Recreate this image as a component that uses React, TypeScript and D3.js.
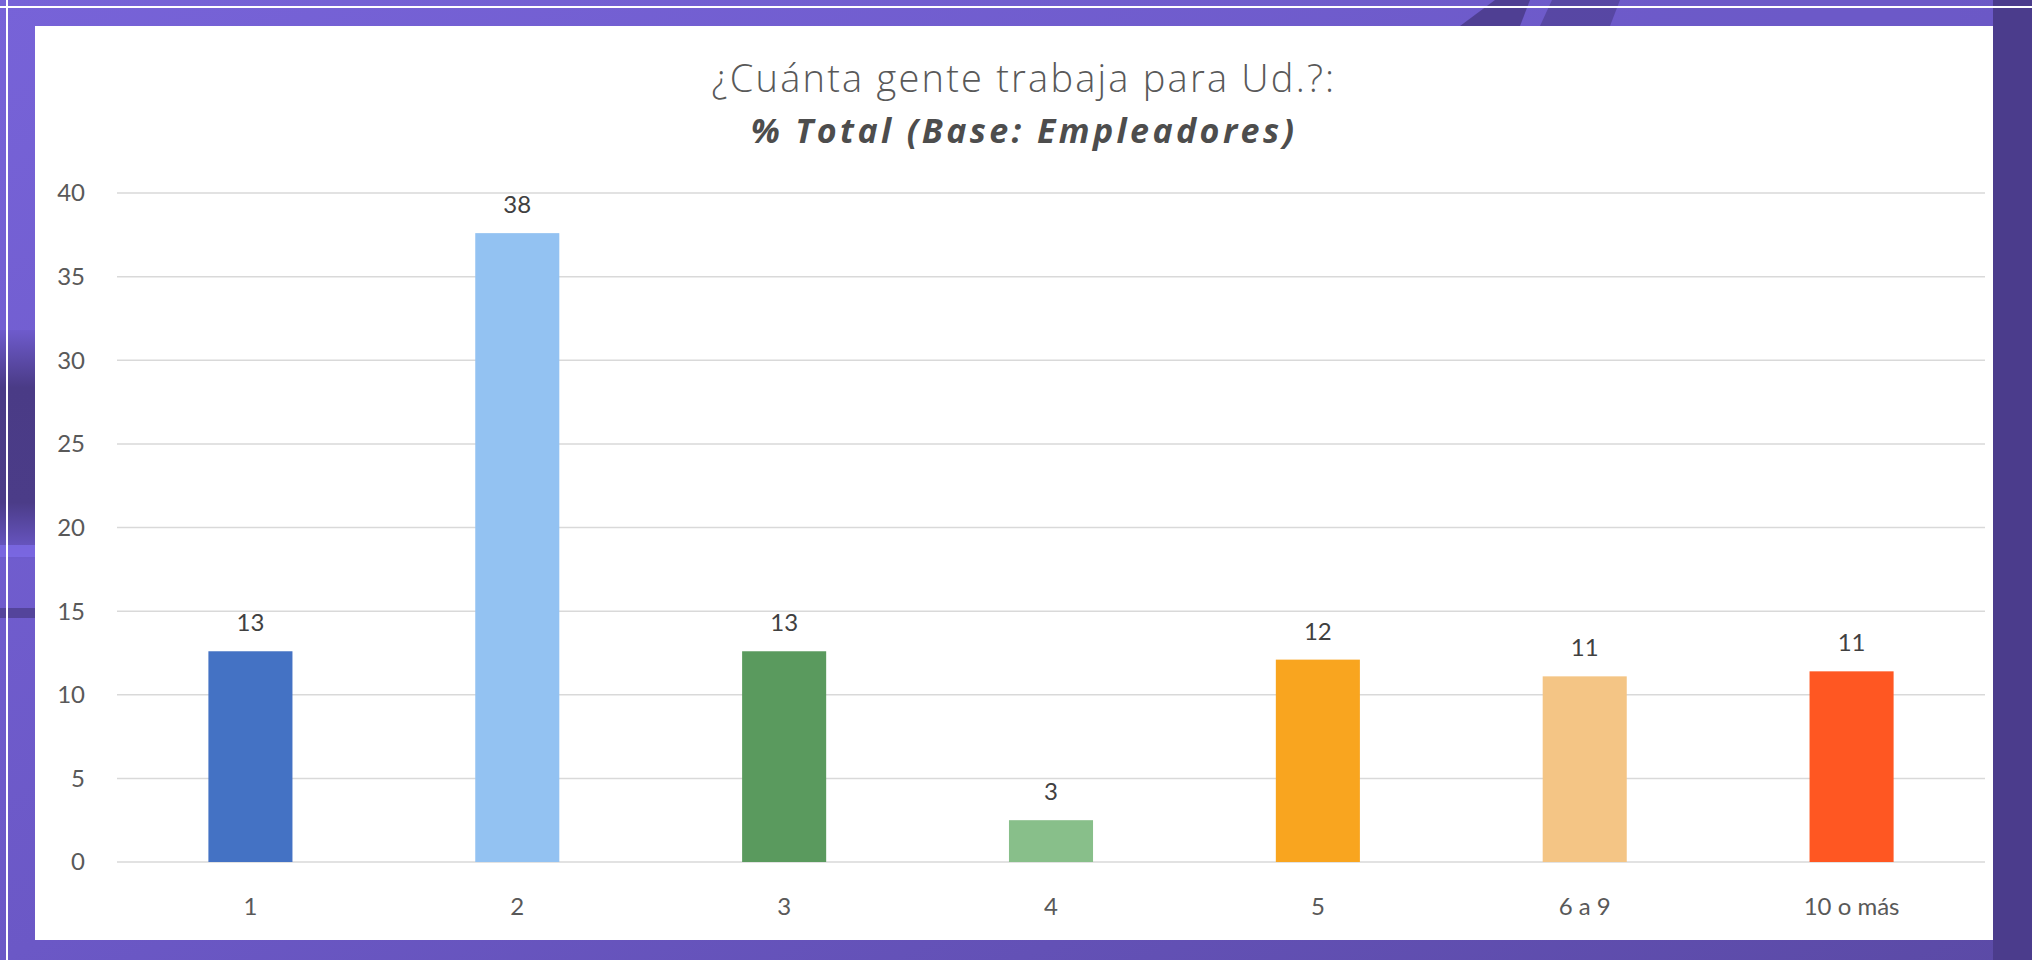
import React, { useEffect, useRef } from "react";
import * as d3 from "d3";

const categories = ["1", "2", "3", "4", "5", "6 a 9", "10 o más"];
const values = [12.6, 37.6, 12.6, 2.5, 12.1, 11.1, 11.4];
const valueLabels = ["13", "38", "13", "3", "12", "11", "11"];
const barColors = ["#4472C4", "#93C2F2", "#5A9A5E", "#88BF8A", "#F9A51F", "#F4C585", "#FF5722"];
const yTicks = [0, 5, 10, 15, 20, 25, 30, 35, 40];
const titleLine1 = "¿Cuánta gente trabaja para Ud.?:";
const titleLine2 = "% Total (Base: Empleadores)";

const W = 2032;
const H = 960;
const PANEL = { x: 35, y: 26, x2: 1993, y2: 940 };
const PLOT = { left: 117, right: 1985, top: 193, bottom: 862 };
const FONT = "Lato, 'Open Sans', sans-serif";
const TITLE_FONT = "'Open Sans', Lato, sans-serif";

export default function App() {
  const ref = useRef<SVGSVGElement | null>(null);

  useEffect(() => {
    const svg = d3.select(ref.current);
    svg.selectAll("*").remove();

    const defs = svg.append("defs");
    const bg = defs.append("linearGradient").attr("id", "bg").attr("x1", "0").attr("y1", "0").attr("x2", "1").attr("y2", "1");
    bg.append("stop").attr("offset", "0").attr("stop-color", "#7763d8");
    bg.append("stop").attr("offset", "0.5").attr("stop-color", "#6b58c6");
    bg.append("stop").attr("offset", "1").attr("stop-color", "#5b4aa6");
    const band = defs.append("linearGradient").attr("id", "band").attr("x1", "0").attr("y1", "0").attr("x2", "0").attr("y2", "1");
    band.append("stop").attr("offset", "0").attr("stop-color", "#6e5bcc");
    band.append("stop").attr("offset", "0.25").attr("stop-color", "#4a3b86");
    band.append("stop").attr("offset", "0.75").attr("stop-color", "#4b3c88");
    band.append("stop").attr("offset", "1").attr("stop-color", "#6f5cd0");

    // background
    svg.append("rect").attr("x", 0).attr("y", 0).attr("width", W).attr("height", H).attr("fill", "url(#bg)");
    svg.append("rect").attr("x", 0).attr("y", 330).attr("width", PANEL.x).attr("height", 230).attr("fill", "url(#band)");
    svg.append("rect").attr("x", 0).attr("y", 545).attr("width", PANEL.x).attr("height", 12).attr("fill", "#7d6ae6").attr("opacity", 0.8);
    svg.append("rect").attr("x", 0).attr("y", 608).attr("width", PANEL.x).attr("height", 10).attr("fill", "#4e3f8e").attr("opacity", 0.8);
    svg.append("rect").attr("x", PANEL.x2).attr("y", 0).attr("width", W - PANEL.x2).attr("height", H).attr("fill", "#4b3c8c");
    svg.append("polygon").attr("points", "1460,26 1495,0 1530,0 1520,26").attr("fill", "#4a3b8a").attr("opacity", 0.85);
    svg.append("polygon").attr("points", "1540,26 1552,0 1620,0 1610,26").attr("fill", "#4a3b8a").attr("opacity", 0.6);
    svg.append("rect").attr("x", 1660).attr("y", 0).attr("width", 300).attr("height", 26).attr("fill", "#6c5ac8").attr("opacity", 0.6);

    // thin white frame
    svg.append("line").attr("x1", 0).attr("x2", W).attr("y1", 7).attr("y2", 7).attr("stroke", "#ffffff").attr("stroke-width", 2);
    svg.append("line").attr("x1", 7).attr("x2", 7).attr("y1", 0).attr("y2", H).attr("stroke", "#ffffff").attr("stroke-width", 2);

    // white panel
    svg.append("rect").attr("x", PANEL.x).attr("y", PANEL.y).attr("width", PANEL.x2 - PANEL.x).attr("height", PANEL.y2 - PANEL.y).attr("fill", "#ffffff");

    const x = d3.scaleBand<string>().domain(categories).range([PLOT.left, PLOT.right]).paddingInner(0.685).paddingOuter(0.3425);
    const y = d3.scaleLinear().domain([0, 40]).range([PLOT.bottom, PLOT.top]);

    // gridlines
    svg.append("g").selectAll("line").data(yTicks).join("line")
      .attr("x1", PLOT.left).attr("x2", PLOT.right)
      .attr("y1", (d) => y(d)).attr("y2", (d) => y(d))
      .attr("stroke", "#d9d9d9").attr("stroke-width", 1.5);

    // y labels
    svg.append("g").selectAll("text").data(yTicks).join("text")
      .attr("x", 85).attr("y", (d) => y(d)).attr("dy", "0.35em")
      .attr("text-anchor", "end").attr("font-family", FONT).attr("font-size", 24)
      .attr("fill", "#595959").text((d) => String(d));

    // bars
    svg.append("g").selectAll("rect").data(values).join("rect")
      .attr("x", (_, i) => x(categories[i]) as number)
      .attr("width", x.bandwidth())
      .attr("y", (d) => y(d))
      .attr("height", (d) => y(0) - y(d))
      .attr("fill", (_, i) => barColors[i]);

    // value labels
    svg.append("g").selectAll("text").data(values).join("text")
      .attr("x", (_, i) => (x(categories[i]) as number) + x.bandwidth() / 2)
      .attr("y", (d) => y(d) - 20)
      .attr("text-anchor", "middle").attr("font-family", FONT).attr("font-size", 24)
      .attr("fill", "#404040").text((_, i) => valueLabels[i]);

    // x labels
    svg.append("g").selectAll("text").data(categories).join("text")
      .attr("x", (d) => (x(d) as number) + x.bandwidth() / 2)
      .attr("y", 915)
      .attr("text-anchor", "middle").attr("font-family", FONT).attr("font-size", 24)
      .attr("fill", "#595959").text((d) => d);

    // title
    svg.append("text").attr("x", 1024).attr("y", 92).attr("text-anchor", "middle")
      .attr("font-family", TITLE_FONT).attr("font-weight", 300).attr("font-size", 38)
      .attr("letter-spacing", 2.2)
      .attr("fill", "#595959").text(titleLine1);
    svg.append("text").attr("x", 1024).attr("y", 143).attr("text-anchor", "middle")
      .attr("font-family", TITLE_FONT).attr("font-weight", 700).attr("font-style", "italic").attr("font-size", 34)
      .attr("letter-spacing", 3.4)
      .attr("fill", "#4d4d4d").text(titleLine2);
  }, []);

  return (
    <svg ref={ref} width={W} height={H} style={{ display: "block", position: "absolute", left: 0, top: 0 }} />
  );
}
